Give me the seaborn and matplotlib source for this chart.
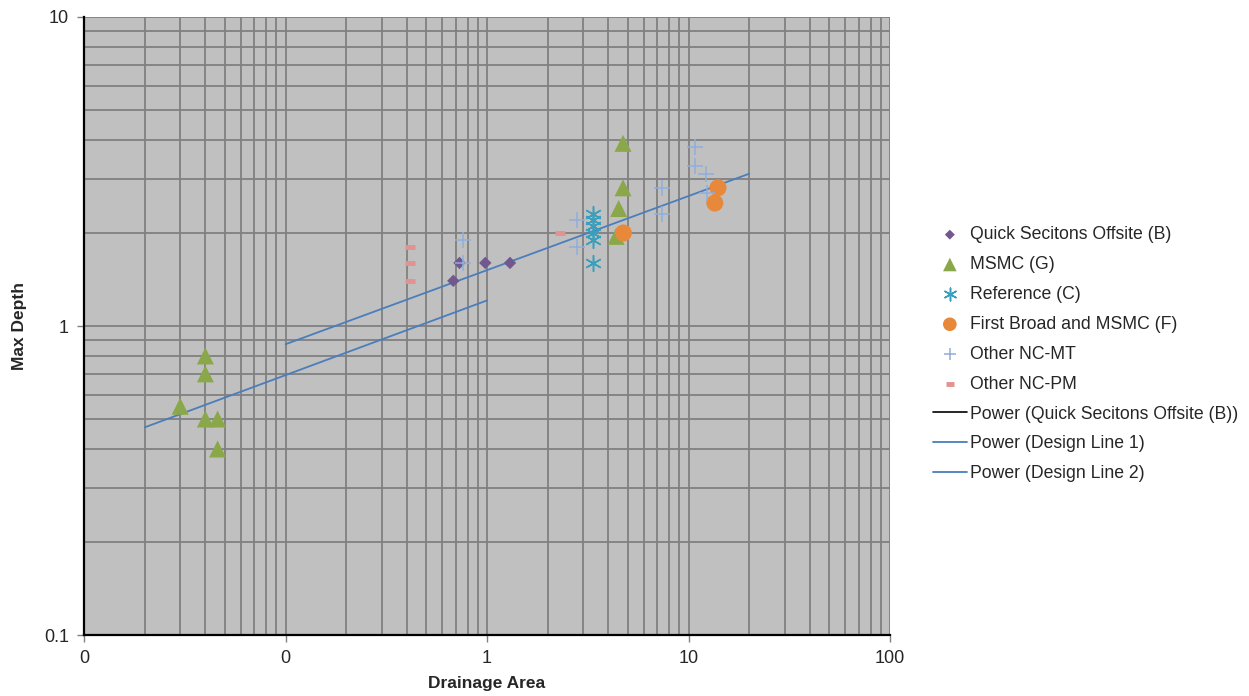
import numpy as np
import pandas as pd
import matplotlib
matplotlib.use("Agg")
import matplotlib.pyplot as plt
from matplotlib.ticker import FixedLocator, FixedFormatter, NullFormatter, LogLocator
import seaborn as sns

# ---- data ----
quick_x = [0.68, 0.73, 0.98, 1.30]
quick_y = [1.40, 1.60, 1.60, 1.60]

msmc_x = [0.040, 0.040, 0.030, 0.040, 0.046, 0.046, 4.73, 4.73, 4.50, 4.37]
msmc_y = [0.80, 0.70, 0.55, 0.50, 0.50, 0.40, 3.90, 2.80, 2.40, 1.95]

ref_x = [3.36, 3.36, 3.36, 3.36, 3.36, 3.36]
ref_y = [2.30, 2.20, 2.10, 2.00, 1.90, 1.60]

first_x = [4.75, 14.0, 13.5]
first_y = [2.00, 2.80, 2.50]

mt_x = [0.76, 0.76, 2.80, 2.80, 7.40, 7.40, 10.8, 10.8, 12.2, 12.3]
mt_y = [1.90, 1.60, 2.20, 1.80, 2.80, 2.30, 3.80, 3.30, 3.10, 2.70]

pm_x = [0.415, 0.415, 0.415, 2.30]
pm_y = [1.80, 1.60, 1.40, 2.00]

design1_x = [0.02, 1.0]
design1_y = [0.47, 1.21]
design2_x = [0.1, 20.0]
design2_y = [0.873, 3.11]

x_ticks = [0.01, 0.1, 1, 10, 100]
x_tick_labels = ["0", "0", "1", "10", "100"]
y_ticks = [0.1, 1, 10]
y_tick_labels = ["0.1", "1", "10"]

# ---- style ----
sns.set_theme(style="white")
plt.rcParams["font.family"] = ["Liberation Sans", "DejaVu Sans"]

fig = plt.figure(figsize=(12.49, 6.96), dpi=100)
ax = fig.add_axes([0.0673, 0.0876, 0.7126 - 0.0673, 0.9756 - 0.0876])
ax.set_facecolor("#C0C0C0")

c_quick = "#71588F"
c_msmc = "#8AA84A"
c_ref = "#3A9FBD"
c_first = "#E8883A"
c_mt = "#8FAEDB"
c_pm = "#E29291"
c_line = "#4A7EBB"

sns.scatterplot(x=quick_x, y=quick_y, ax=ax, marker="D", s=40, color=c_quick,
                edgecolor="none", label="Quick Secitons Offsite (B)", zorder=5)
sns.scatterplot(x=msmc_x, y=msmc_y, ax=ax, marker="^", s=150, color=c_msmc,
                edgecolor="none", label="MSMC (G)", zorder=5)
sns.scatterplot(x=ref_x, y=ref_y, ax=ax, marker=(6, 2, 0), s=130, color=c_ref,
                linewidth=1.1, label="Reference (C)", zorder=5)
sns.scatterplot(x=first_x, y=first_y, ax=ax, marker="o", s=150, color=c_first,
                edgecolor="none", label="First Broad and MSMC (F)", zorder=5)
sns.scatterplot(x=mt_x, y=mt_y, ax=ax, marker="+", s=130, color=c_mt,
                linewidth=1.1, label="Other NC-MT", zorder=5)
sns.scatterplot(x=pm_x, y=pm_y, ax=ax, marker="_", s=60, color=c_pm,
                linewidth=3.5, label="Other NC-PM", zorder=5)

ax.plot([], [], color="black", lw=1.2, label="Power (Quick Secitons Offsite (B))")
sns.lineplot(x=design1_x, y=design1_y, ax=ax, color=c_line, lw=1.3,
             label="Power (Design Line 1)", zorder=4)
sns.lineplot(x=design2_x, y=design2_y, ax=ax, color=c_line, lw=1.3,
             label="Power (Design Line 2)", zorder=4)

ax.set_xscale("log")
ax.set_yscale("log")
ax.set_xlim(0.01, 100)
ax.set_ylim(0.1, 10)

ax.xaxis.set_major_locator(FixedLocator(x_ticks))
ax.xaxis.set_major_formatter(FixedFormatter(x_tick_labels))
ax.yaxis.set_major_locator(FixedLocator(y_ticks))
ax.yaxis.set_major_formatter(FixedFormatter(y_tick_labels))
ax.xaxis.set_minor_locator(LogLocator(base=10, subs=np.arange(2, 10)))
ax.yaxis.set_minor_locator(LogLocator(base=10, subs=np.arange(2, 10)))
ax.xaxis.set_minor_formatter(NullFormatter())
ax.yaxis.set_minor_formatter(NullFormatter())

ax.grid(True, which="both", color="#808080", linewidth=1.3)
ax.set_axisbelow(True)

ax.tick_params(axis="both", which="major", direction="out", length=5, width=1,
               color="#808080", labelsize=13, pad=6, left=True, bottom=True)
ax.tick_params(axis="both", which="minor", length=0)

for side in ["top", "right"]:
    ax.spines[side].set_visible(False)
for side in ["left", "bottom"]:
    ax.spines[side].set_color("black")
    ax.spines[side].set_linewidth(1.6)

ax.set_xlabel("Drainage Area", fontsize=12.5, fontweight="bold", labelpad=6)
ax.set_ylabel("Max Depth", fontsize=12.5, fontweight="bold", labelpad=12)

leg = ax.legend(loc="center left", bbox_to_anchor=(0.740, 0.491),
                bbox_transform=fig.transFigure, frameon=False, fontsize=12.7,
                labelspacing=0.73, handlelength=1.9, handletextpad=0.22,
                borderpad=0, markerscale=0.8)

fig.savefig("out.png", dpi=100)
